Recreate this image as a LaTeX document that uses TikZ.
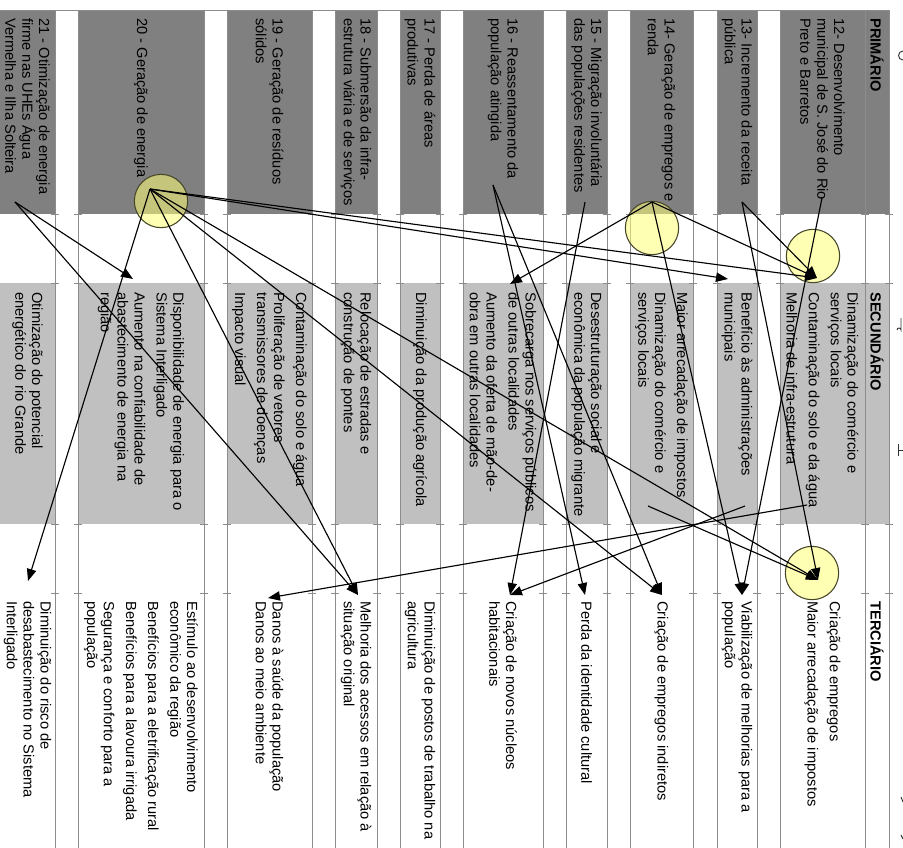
\documentclass[tikz,border=0pt]{standalone}
\usepackage{fontspec}
\setmainfont{Liberation Sans}
\usetikzlibrary{arrows.meta}
\definecolor{primfill}{RGB}{128,128,128}
\definecolor{secfill}{RGB}{192,192,192}
\definecolor{rulecol}{RGB}{140,140,140}
\definecolor{hubfill}{RGB}{255,255,120}
\definecolor{hubedge}{RGB}{70,70,40}
\begin{document}
\begin{tikzpicture}[x=0.75pt,y=-0.75pt,
  rule/.style={draw=rulecol,line width=0.6pt},
  txt/.style={rotate=-90,anchor=west,align=left,inner sep=0pt,
    font=\fontsize{11}{12.6}\selectfont},
  headtxt/.style={txt,font=\bfseries\fontsize{11}{12.6}\selectfont},
  hub/.style={circle,draw=hubedge,line width=0.8pt,fill=hubfill,
    fill opacity=0.55,minimum size=40pt,inner sep=0pt},
  link/.style={line width=0.85pt,-{Triangle[length=9pt,width=7pt]}},
  scrap/.style={draw=black!80,line width=0.7pt}]
\useasboundingbox (0,0) rectangle (903,847);
\fill[white] (0,0) rectangle (903,847);

% cell fills: primary (dark) and secondary (light) bands of every row
\foreach \a/\b in {-2/55,78/204,227/312,335/377,400/440,463/543,566/607,630/693,717/757,780/865,865/889}{
  \fill[primfill] (\a,10) rectangle (\b,214);
  \fill[secfill] (\a,283) rectangle (\b,524);
}
% table rules
\foreach \x in {55,78,204,227,312,335,377,400,440,463,543,566,607,630,693,717,757,780,865,889}{
  \draw[rule] (\x,10) -- (\x,850);
  \foreach \y in {214,283,524,593}
    \draw[rule] ({\x-4},\y) -- ({\x+4},\y);
}
\draw[rule] (-2,10) -- (889,10);

% header
\node[headtxt] (hp) at (877,18) {PRIMÁRIO};
\node[headtxt] (hs) at (877,292) {SECUNDÁRIO};
\node[headtxt] (ht) at (877,601) {TERCIÁRIO};

% row 12
\node[txt] (p12) at (822.5,18) {12- Desenvolvimento\\municipal de S. José do Rio\\Preto e Barretos};
\node[txt] (s12) at (822.5,292) {Dinamização do comércio e\\serviços locais\\[4pt]Contaminação do solo e da água\\[4pt]Melhoria de infra-estrutura};
\node[txt] (t12) at (822.5,601) {Criação de empregos\\[4pt]Maior arrecadação de impostos};
% row 13
\node[txt] (p13) at (737,18) {13- Incremento da receita\\pública};
\node[txt] (s13) at (737,292) {Benefício às administrações\\municipais};
\node[txt] (t13) at (737,601) {Viabilização de melhorias para a\\população};
% row 14
\node[txt] (p14) at (661.5,18) {14- Geração de empregos e\\renda};
\node[txt] (s14) at (661.5,292) {Maior arrecadação de impostos\\[4pt]Dinamização do comércio e\\serviços locais};
\node[txt] (t14) at (661.5,601) {Criação de empregos indiretos};
% row 15
\node[txt] (p15) at (586.5,18) {15 - Migração involuntária\\das populações residentes};
\node[txt] (s15) at (586.5,292) {Desestruturação social e\\econômica da população migrante};
\node[txt] (t15) at (586.5,601) {Perda da identidade cultural};
% row 16
\node[txt] (p16) at (503,18) {16 - Reassentamento da\\população atingida};
\node[txt] (s16) at (503,292) {Sobrecarga nos serviços públicos\\de outras localidades\\[4pt]Aumento da oferta de mão-de-\\obra em outras localidades};
\node[txt] (t16) at (503,601) {Criação de novos núcleos\\habitacionais};
% row 17
\node[txt] (p17) at (420,18) {17 - Perda de áreas\\produtivas};
\node[txt] (s17) at (420,292) {Diminuição da produção agrícola};
\node[txt] (t17) at (420,601) {Diminuição de postos de trabalho na\\agricultura};
% row 18
\node[txt] (p18) at (356,18) {18 - Submersão da infra-\\estrutura viária e de serviços};
\node[txt] (s18) at (356,292) {Relocação de estradas e\\construção de pontes};
\node[txt] (t18) at (356,601) {Melhoria dos acessos em relação à\\situação original};
% row 19
\node[txt] (p19) at (269.5,18) {19 - Geração de resíduos\\sólidos};
\node[txt] (s19) at (269.5,292) {Contaminação do solo e água\\[4pt]Proliferação de vetores\\transmissores de doenças\\[4pt]Impacto visual};
\node[txt] (t19) at (269.5,601) {Danos à saúde da população\\Danos ao meio ambiente};
% row 20
\node[txt] (p20) at (141,18) {20 - Geração de energia};
\node[txt] (s20) at (141,292) {Disponibilidade de energia para o\\Sistema Interligado\\[4pt]Aumento na confiabilidade de\\abastecimento de energia na\\região};
\node[txt] (t20) at (141,601) {Estímulo ao desenvolvimento\\econômico da região\\[4pt]Benefícios para a eletrificação rural\\[4pt]Benefícios para a lavoura irrigada\\[4pt]Segurança e conforto para a\\população};
% row 21
\node[txt] (p21) at (27.5,18) {21 - Otimização de energia\\firme nas UHEs Água\\Vermelha e Ilha Solteira};
\node[txt] (s21) at (27.5,292) {Otimização do potencial\\energético do rio Grande};
\node[txt] (t21) at (27.5,601) {Diminuição do risco de\\desabastecimento no Sistema\\Interligado};

% highlighted hubs
\node[hub] (h20) at (161,201) {};
\node[hub] (h14) at (652,228) {};
\node[hub] (h12b) at (813,256) {};
\node[hub] (h12c) at (812,573) {};

% arrow origins
\coordinate (o21) at (15,202);
\coordinate (o20) at (150,189);
\coordinate (o14) at (652,202);
\coordinate (o12) at (822,198);
\coordinate (o13) at (742,202);
\coordinate (o15) at (585,202);
\coordinate (o16) at (493,185);
\coordinate (o12b) at (807,505);
\coordinate (o13b) at (745,506);
\coordinate (o14b) at (648,506);
% arrow targets
\coordinate (a20b) at (133,279);
\coordinate (a18c) at (358,595);
\coordinate (a21c) at (28,581);
\coordinate (a14c) at (662,595);
\coordinate (a12c) at (818,580);
\coordinate (a13b) at (728,279);
\coordinate (a12b) at (817,278);
\coordinate (a16b) at (510,284);
\coordinate (a13c) at (742,595);
\coordinate (a15c) at (585,595);
\coordinate (a16c) at (510,595);
\coordinate (a19c) at (268,598);

% connectors
\draw[link] (o21) -- (a20b);
\draw[link] (o21) -- (a18c);
\draw[link] (o20) -- (a21c);
\draw[link] (o20) -- (a18c);
\draw[link] (o20) -- (a14c);
\draw[link] (o20) -- (a12c);
\draw[link] (o20) -- (a13b);
\draw[link] (o20) -- (a12b);
\draw[link] (o14) -- (a16b);
\draw[link] (o14) -- (a12b);
\draw[link] (o14) -- (a13c);
\draw[link] (o12) -- (a13c);
\draw[link] (o13) -- (a12b);
\draw[link] (o13) -- (a12c);
\draw[link] (o15) -- (a16c);
\draw[link] (o16) -- (a15c);
\draw[link] (o16) -- (a14c);
\draw[link] (o12b) -- (a19c);
\draw[link] (o13b) -- (a16c);
\draw[link] (o14b) -- (a12c);

% fragments of cut-off lettering along the right edge
\draw[scrap] (903,60) arc[start angle=90,end angle=270,radius=4.5];
\draw[scrap] (901,318) -- (901,330) arc[start angle=0,end angle=-180,radius=2];
\draw[scrap] (898,444) -- (898,456) (898,450) -- (903,450);
\draw[scrap] (901,797) -- (903,802);
\draw[scrap] (901,835) -- (903,839);
\end{tikzpicture}
\end{document}
